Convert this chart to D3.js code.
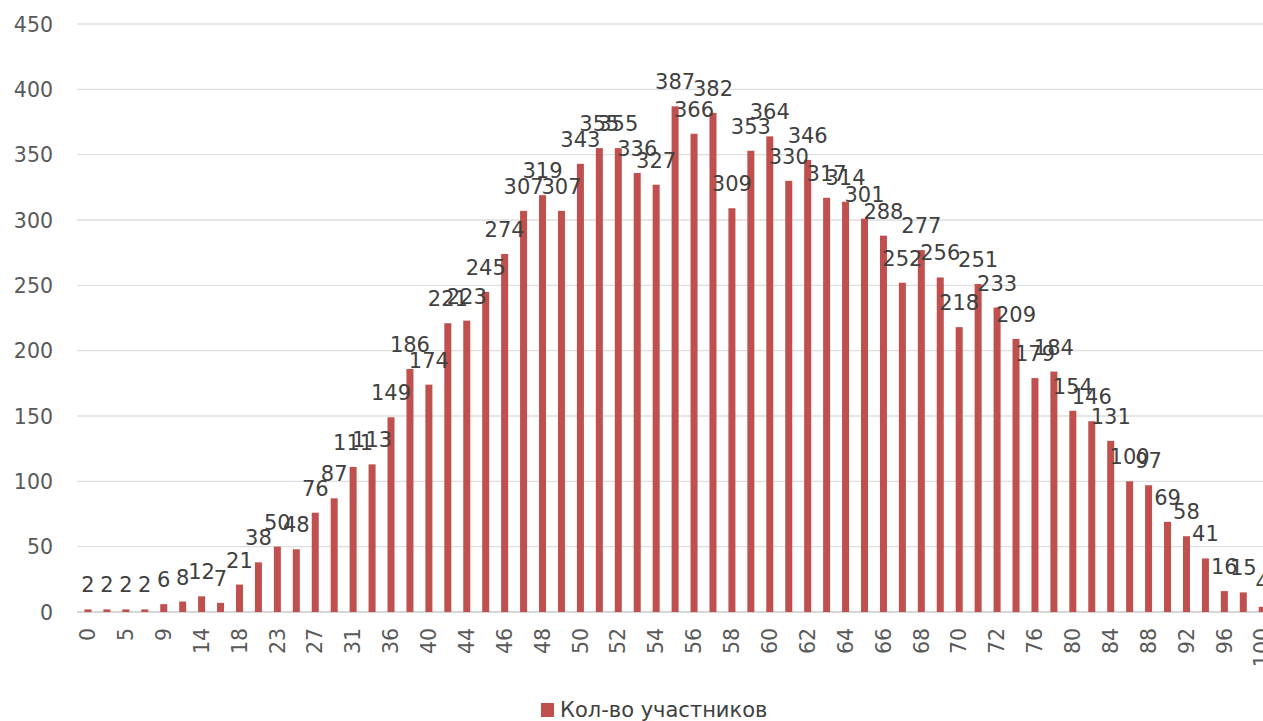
<!DOCTYPE html>
<html><head><meta charset="utf-8">
<script src="https://cdn.jsdelivr.net/npm/d3@7"></script>
<style>html,body{margin:0;padding:0;background:#fff;overflow:hidden}</style>
</head><body>
<svg id="c" width="1263" height="721"></svg>
<script>
const categories = ["0","2","5","7","9","12","14","16","18","21","23","25","27","29","31","34","36","38","40","42","44",
"45","46","47","48","49","50","51","52","53","54","55","56","57","58","59","60","61","62","63","64","65","66","67","68","69","70","71","72",
"74","76","78","80","82","84","86","88","90","92","94","96","98","100"];
const values = [2,2,2,2,6,8,12,7,21,38,50,48,76,87,111,113,149,186,174,221,223,245,274,307,319,307,343,355,355,336,327,387,366,382,309,353,364,330,346,317,314,301,288,252,277,256,218,251,233,209,179,184,154,146,131,100,97,69,58,41,16,15,4];
const yTicks = [0,50,100,150,200,250,300,350,400,450];
const seriesName = "Кол-во участников";

const svg = d3.select("#c");
const font = "DejaVu Sans, Verdana, sans-serif";
const x = d3.scaleBand().domain(categories).range([78.5, 1271.7]).paddingInner(0.63).paddingOuter(0.315);
const y = d3.scaleLinear().domain([0,450]).range([612, 24]);

// gridlines
svg.append("g").selectAll("line").data(yTicks).join("line")
  .attr("x1",77).attr("x2",1263).attr("y1",d=>y(d)).attr("y2",d=>y(d))
  .attr("stroke",d=>d===0?"#c8c8c8":"#dedede").attr("stroke-width",1.3);

// y axis labels
const yAxis = d3.axisLeft(y).tickValues(yTicks).tickSize(0).tickPadding(0);
const ga = svg.append("g").attr("transform","translate(53,0)").call(yAxis);
ga.select(".domain").remove();
ga.selectAll("text").attr("font-family",font).attr("font-size",20.5).attr("fill","#595959").attr("dy","0.35em");

// bars
svg.append("g").selectAll("rect").data(values).join("rect")
  .attr("x",(d,i)=>x(categories[i])).attr("width",x.bandwidth())
  .attr("y",d=>y(d)).attr("height",d=>y(0)-y(d)).attr("fill","#c0504d");

// data labels
svg.append("g").selectAll("text").data(values).join("text")
  .attr("x",(d,i)=>x(categories[i])+x.bandwidth()/2).attr("y",d=>y(d)-17)
  .attr("text-anchor","middle").attr("font-family",font).attr("font-size",21)
  .attr("fill","#404040").text(d=>d);

// x axis labels (every other category)
const xAxis = d3.axisBottom(x).tickValues(categories.filter((c,i)=>i%2===0)).tickSize(0).tickPadding(0);
const gx = svg.append("g").attr("transform","translate(0,628)").call(xAxis);
gx.select(".domain").remove();
gx.selectAll("text").attr("font-family",font).attr("font-size",20.5).attr("fill","#595959")
  .attr("text-anchor","end").attr("transform","rotate(-90)").attr("x",0).attr("y",0).attr("dy","0.35em");

// legend
const lg = svg.append("g");
lg.append("rect").attr("x",541).attr("y",703).attr("width",13).attr("height",14).attr("fill","#c0504d");
lg.append("text").attr("x",560).attr("y",717).attr("font-family",font).attr("font-size",21)
  .attr("fill","#404040").text(seriesName);
</script>
</body></html>
